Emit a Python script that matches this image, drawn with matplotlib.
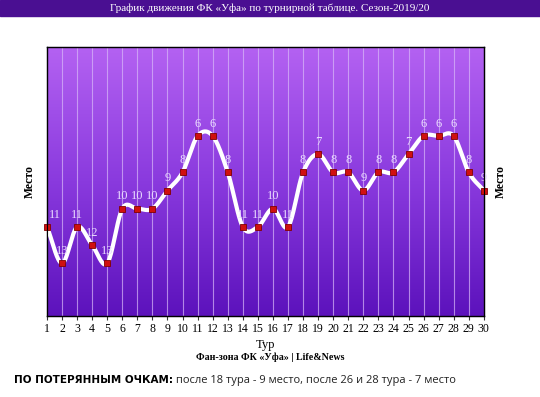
import numpy as np
import matplotlib.pyplot as plt
from matplotlib.patches import Rectangle
from matplotlib.colors import LinearSegmentedColormap

rounds = list(range(1, 31))
places = [11, 13, 11, 12, 13, 10, 10, 10, 9, 8, 6, 6, 8, 11, 11,
          10, 11, 8, 7, 8, 8, 9, 8, 8, 7, 6, 6, 6, 8, 9]

title = "График движения ФК «Уфа» по турнирной таблице. Сезон-2019/20"
source = "Фан-зона ФК «Уфа» | Life&News"
note_bold = "ПО ПОТЕРЯННЫМ ОЧКАМ:"
note_text = " после 18 тура - 9 место, после 26 и 28 тура - 7 место"

serif = ["Liberation Serif", "DejaVu Serif"]


def smooth(x, y, n=20):
    # catmull-rom curve through the points, only for drawing the line
    x = np.asarray(x, float)
    y = np.asarray(y, float)
    px = np.concatenate([[2 * x[0] - x[1]], x, [2 * x[-1] - x[-2]]])
    py = np.concatenate([[2 * y[0] - y[1]], y, [2 * y[-1] - y[-2]]])
    xs, ys = [], []
    t = np.linspace(0, 1, n, endpoint=False)
    for i in range(1, len(px) - 2):
        for p, out in ((px, xs), (py, ys)):
            p0, p1, p2, p3 = p[i - 1], p[i], p[i + 1], p[i + 2]
            out.extend(0.5 * (2 * p1 + (-p0 + p2) * t
                              + (2 * p0 - 5 * p1 + 4 * p2 - p3) * t ** 2
                              + (-p0 + 3 * p1 - 3 * p2 + p3) * t ** 3))
    xs.append(x[-1])
    ys.append(y[-1])
    return np.array(xs), np.array(ys)


fig = plt.figure(figsize=(5.4, 3.97), dpi=100)
ax = fig.add_axes([0.087, 0.204, 0.809, 0.678])

ymin, ymax = 15.9, 1.1
ax.set_xlim(1, 30)
ax.set_ylim(ymin, ymax)

cmap = LinearSegmentedColormap.from_list("bg", ["#b462f2", "#8a3ade", "#5c12bc"])
grad = np.linspace(0, 1, 256).reshape(-1, 1)
ax.imshow(grad, cmap=cmap, aspect="auto", extent=(1, 30, ymin, ymax),
          origin="upper", zorder=0)

for r in rounds:
    ax.axvline(r, color="#d8b8f8", lw=0.8, alpha=0.7, zorder=1)

sx, sy = smooth(rounds, places)
ax.plot(sx, sy, color="white", lw=3, zorder=3, solid_capstyle="round")
ax.plot(rounds, places, "s", ms=4.5, color="#d01010", mec="#800000", mew=0.6,
        zorder=4, clip_on=False)

for r, p in zip(rounds, places):
    dx = 0.55 if r == 1 else 0
    ax.text(r + dx, p - 0.35, str(p), ha="center", va="bottom", fontsize=9,
            color="#eadcff", family=serif, zorder=5)

ax.set_xticks(rounds)
ax.set_xticklabels([str(r) for r in rounds], family=serif, fontsize=8.5)
ax.tick_params(axis="x", length=3, pad=2, color="#333333")
ax.set_yticks([])
for s in ax.spines.values():
    s.set_color("#1a1030")
    s.set_linewidth(1)

ax.set_xlabel("Тур", family=serif, fontsize=9, labelpad=3)
ax.set_ylabel("Место", family=serif, fontsize=8.5, fontweight="bold", labelpad=8)
ax2 = ax.twinx()
ax2.set_yticks([])
ax2.set_ylabel("Место", family=serif, fontsize=8.5, fontweight="bold", labelpad=8)

fig.patches.append(Rectangle((0, 1 - 16 / 397), 1, 16 / 397, transform=fig.transFigure,
                             color="#4a0f92", zorder=0))
fig.text(0.5, 1 - 8 / 397, title, ha="center", va="center", color="white",
         family=serif, fontsize=8)
fig.text(0.5, 1 - 357 / 397, source, ha="center", va="center",
         family=serif, fontsize=7.2, fontweight="bold")

t1 = fig.text(14 / 540, 1 - 380 / 397, note_bold, ha="left", va="center",
              family="DejaVu Sans", fontweight="bold", fontsize=7.5)
fig.canvas.draw()
bb = t1.get_window_extent()
fig.text(bb.x1 / fig.bbox.width, 1 - 380 / 397, note_text, ha="left", va="center",
         family="Open Sans", fontsize=8, color="#222222")

fig.savefig("out.png", dpi=100)
